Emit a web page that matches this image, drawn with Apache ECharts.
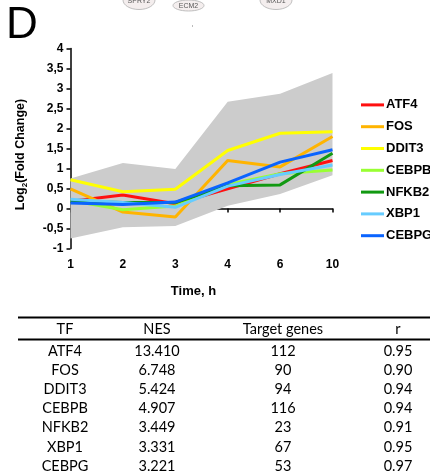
<!DOCTYPE html>
<html>
<head>
<meta charset="utf-8">
<script src="https://cdn.jsdelivr.net/npm/echarts@6/dist/echarts.min.js"></script>
<style>
  html, body { margin: 0; padding: 0; background: #fff; }
  #chart { width: 430px; height: 472px; }
</style>
</head>
<body>
<div id="chart"></div>
<script>
// time points (h)
const times = ["1", "2", "3", "4", "6", "10"];
// gray envelope
const bandLow = [-0.75, -0.47, -0.44, 0.07, 0.36, 0.83];
const bandHigh = [0.75, 1.14, 0.99, 2.67, 2.87, 3.39];
// Log2 fold change per TF
const atf4 = [0.18, 0.34, 0.12, 0.49, 0.87, 1.2];
const fos = [0.49, -0.09, -0.21, 1.2, 1.04, 1.8];
const ddit3 = [0.72, 0.42, 0.48, 1.45, 1.88, 1.92];
const cebpb = [0.2, -0.03, 0.06, 0.6, 0.87, 0.96];
const nfkb2 = [0.18, 0.15, 0.15, 0.57, 0.59, 1.38];
const xbp1 = [0.23, 0.15, 0.03, 0.56, 0.85, 1.09];
const cebpg = [0.14, 0.1, 0.16, 0.64, 1.16, 1.47];

// table below the chart
const tableHeader = ["TF", "NES", "Target genes", "r"];
const tfNames = ["ATF4", "FOS", "DDIT3", "CEBPB", "NFKB2", "XBP1", "CEBPG"];
const nesValues = ["13.410", "6.748", "5.424", "4.907", "3.449", "3.331", "3.221"];
const targetGenes = ["112", "90", "94", "116", "23", "67", "53"];
const rValues = ["0.95", "0.90", "0.94", "0.94", "0.91", "0.95", "0.97"];

const font = "'Liberation Sans', Arial, sans-serif";
const tableFont = "Lato, 'Open Sans', sans-serif";

const lines = [
  { name: "ATF4", data: atf4, color: "#ff1010" },
  { name: "FOS", data: fos, color: "#ffb400" },
  { name: "DDIT3", data: ddit3, color: "#ffff00" },
  { name: "CEBPB", data: cebpb, color: "#99ff33" },
  { name: "NFKB2", data: nfkb2, color: "#129912" },
  { name: "XBP1", data: xbp1, color: "#66ccff" },
  { name: "CEBPG", data: cebpg, color: "#0a64ff" },
];

let myChart = echarts.init(document.getElementById("chart"));

// table drawn as graphic elements
const colX = [65, 157, 283, 398];
const graphics = [
  // panel letter
  { type: "text", left: 6, top: 4, style: { text: "D", font: "44px " + font, fill: "#000" } },
  // cut-off network nodes at the top
  { type: "ellipse", shape: { cx: 139, cy: 0, rx: 16, ry: 9.5 }, style: { fill: "#f4eeee", stroke: "#b0b0b0", lineWidth: 0.8 } },
  { type: "text", x: 139, y: 1, style: { text: "SPRY2", font: "7px " + font, fill: "#555", align: "center", verticalAlign: "middle" } },
  { type: "ellipse", shape: { cx: 188.5, cy: 5.5, rx: 15.5, ry: 5.5 }, style: { fill: "#f4eeee", stroke: "#b0b0b0", lineWidth: 0.8 } },
  { type: "text", x: 188.5, y: 6.5, style: { text: "ECM2", font: "7px " + font, fill: "#555", align: "center", verticalAlign: "middle" } },
  { type: "ellipse", shape: { cx: 276, cy: 0, rx: 16, ry: 9.5 }, style: { fill: "#f4eeee", stroke: "#b0b0b0", lineWidth: 0.8 } },
  { type: "text", x: 276, y: 1, style: { text: "MXD1", font: "7px " + font, fill: "#555", align: "center", verticalAlign: "middle" } },
  { type: "rect", shape: { x: 192, y: 25, width: 1, height: 2 }, style: { fill: "#bbb" } },
  // table rules
  { type: "line", shape: { x1: 18, y1: 317.5, x2: 430, y2: 317.5 }, style: { stroke: "#000", lineWidth: 2 } },
  { type: "line", shape: { x1: 18, y1: 339.5, x2: 430, y2: 339.5 }, style: { stroke: "#000", lineWidth: 2 } },
];
tableHeader.forEach((h, i) => {
  graphics.push({ type: "text", x: colX[i], y: 329.5, style: { text: h, font: "14.5px " + tableFont, fill: "#000", align: "center", verticalAlign: "middle" } });
});
tfNames.forEach((tf, r) => {
  const cells = [tf, nesValues[r], targetGenes[r], rValues[r]];
  cells.forEach((c, i) => {
    graphics.push({ type: "text", x: colX[i], y: 351 + r * 19.2, style: { text: c, font: "14.5px " + tableFont, fill: "#000", align: "center", verticalAlign: "middle" } });
  });
});

let option = {
  animation: false,
  backgroundColor: "#fff",
  grid: { left: 70.5, right: 97.5, top: 48.5, bottom: 223.5 },
  legend: {
    data: lines.map((l) => l.name),
    orient: "vertical",
    left: 356,
    top: 89,
    icon: "rect",
    itemWidth: 23,
    itemHeight: 3,
    itemGap: 0,
    textStyle: { fontFamily: font, fontWeight: "bold", fontSize: 13, color: "#000", lineHeight: 21.8, padding: [0, 0, 0, -3] },
  },
  xAxis: {
    type: "category",
    data: times,
    boundaryGap: false,
    name: "Time, h",
    nameLocation: "middle",
    nameGap: 36,
    nameTextStyle: { fontFamily: font, fontWeight: "bold", fontSize: 13, color: "#000", padding: [0, 16, 0, 0] },
    axisLine: { lineStyle: { color: "#000", width: 1.5 } },
    axisTick: { show: true, length: 4, lineStyle: { color: "#000", width: 1.5 } },
    axisLabel: { fontFamily: font, fontWeight: "bold", fontSize: 12, color: "#000", margin: 10 },
    splitLine: { show: false },
  },
  yAxis: {
    type: "value",
    min: -1,
    max: 4,
    interval: 0.5,
    name: "{a|Log}{s|2}{a|(Fold Change)}",
    nameLocation: "middle",
    nameGap: 42,
    nameTextStyle: {
      padding: [0, 0, 0, -12],
      rich: {
        a: { fontFamily: font, fontWeight: "bold", fontSize: 12.5, color: "#000", lineHeight: 16 },
        s: { fontFamily: font, fontWeight: "bold", fontSize: 8, color: "#000", lineHeight: 8, verticalAlign: "bottom" },
      },
    },
    axisLine: { show: true, lineStyle: { color: "#000", width: 1.5 } },
    axisTick: { show: true, length: 4, lineStyle: { color: "#000", width: 1.5 } },
    axisLabel: {
      fontFamily: font,
      fontWeight: "bold",
      fontSize: 12,
      color: "#000",
      margin: 7,
      formatter: (v) => String(v).replace(".", ","),
    },
    splitLine: { show: false },
  },
  graphic: graphics,
  series: [
    {
      name: "bandLow",
      type: "line",
      stack: "band",
      stackStrategy: "all",
      data: bandLow,
      symbol: "none",
      lineStyle: { opacity: 0 },
      silent: true,
    },
    {
      name: "band",
      type: "line",
      stack: "band",
      stackStrategy: "all",
      data: bandHigh.map((v, i) => +(v - bandLow[i]).toFixed(2)),
      symbol: "none",
      lineStyle: { opacity: 0 },
      areaStyle: { color: "#cccccc", opacity: 1 },
      silent: true,
    },
  ].concat(
    lines.map((l) => ({
      name: l.name,
      type: "line",
      data: l.data,
      symbol: "none",
      lineStyle: { color: l.color, width: 3 },
      itemStyle: { color: l.color },
    }))
  ),
};
myChart.setOption(option);
</script>
</body>
</html>
